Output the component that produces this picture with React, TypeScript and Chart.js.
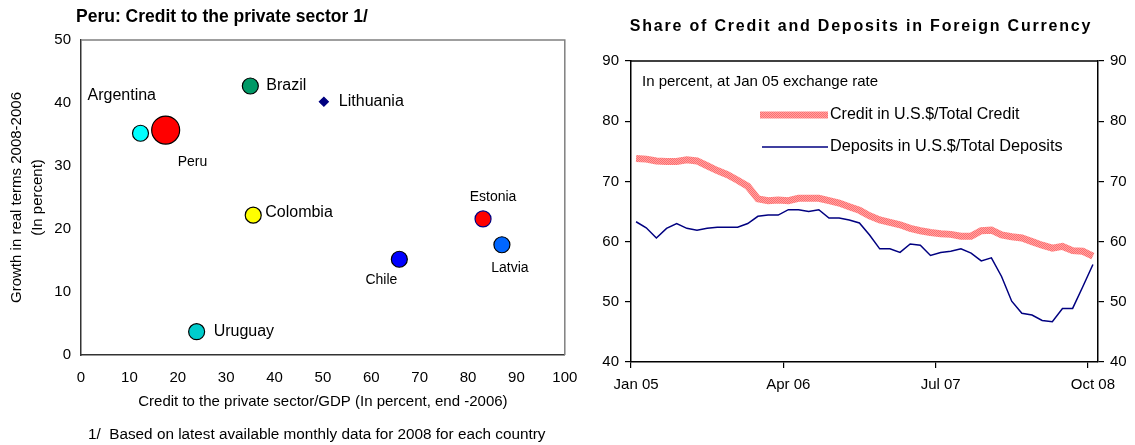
import React, { useEffect, useRef } from "react";
import { Chart, registerables } from "chart.js";

Chart.register(...registerables);

// ---------- Left chart data ----------
const countries = ["Argentina", "Peru", "Brazil", "Lithuania", "Colombia", "Estonia", "Latvia", "Chile", "Uruguay"];
const creditToGdp = [12.3, 17.5, 35.0, 50.2, 35.6, 83.1, 87.0, 65.8, 23.9];
const creditGrowth = [35.2, 35.7, 42.7, 40.2, 22.2, 21.6, 17.5, 15.2, 3.7];
const xTickValues = [0, 10, 20, 30, 40, 50, 60, 70, 80, 90, 100];
const yTickValues = [0, 10, 20, 30, 40, 50];

// ---------- Right chart data ----------
const months = [
  "Jan 05", "Feb 05", "Mar 05", "Apr 05", "May 05", "Jun 05", "Jul 05", "Aug 05", "Sep 05", "Oct 05", "Nov 05", "Dec 05",
  "Jan 06", "Feb 06", "Mar 06", "Apr 06", "May 06", "Jun 06", "Jul 06", "Aug 06", "Sep 06", "Oct 06", "Nov 06", "Dec 06",
  "Jan 07", "Feb 07", "Mar 07", "Apr 07", "May 07", "Jun 07", "Jul 07", "Aug 07", "Sep 07", "Oct 07", "Nov 07", "Dec 07",
  "Jan 08", "Feb 08", "Mar 08", "Apr 08", "May 08", "Jun 08", "Jul 08", "Aug 08", "Sep 08", "Oct 08",
];
const shownMonthLabels = ["Jan 05", "Apr 06", "Jul 07", "Oct 08"];
const creditUsdShare = [
  73.8, 73.7, 73.4, 73.3, 73.3, 73.6, 73.4, 72.6, 71.8, 71.1,
  70.2, 69.2, 67.1, 66.8, 66.9, 66.8, 67.2, 67.2, 67.2, 66.8,
  66.4, 65.8, 65.2, 64.3, 63.6, 63.2, 62.8, 62.2, 61.8, 61.5,
  61.3, 61.2, 60.9, 60.9, 61.8, 61.9, 61.1, 60.8, 60.6, 60.0,
  59.4, 58.9, 59.2, 58.5, 58.4, 57.6,
];
const depositsUsdShare = [
  63.3, 62.3, 60.6, 62.2, 63.0, 62.2, 61.9, 62.2, 62.4, 62.4,
  62.4, 63.0, 64.2, 64.4, 64.4, 65.3, 65.3, 65.0, 65.3, 63.9,
  63.9, 63.6, 63.1, 61.1, 58.8, 58.8, 58.2, 59.6, 59.4, 57.7,
  58.2, 58.4, 58.8, 58.1, 56.8, 57.3, 54.2, 50.1, 48.1, 47.8,
  46.9, 46.7, 48.9, 48.9, 52.5, 56.2,
];
const rightTicks = [40, 50, 60, 70, 80, 90];

// ---------- Styles ----------
const FONT = '"Liberation Sans", Arial, Helvetica, sans-serif';

const countryStyle: Record<string, any> = {
  Argentina: { fill: "#00FFFF", stroke: "#000000", r: 8, shape: "circle", size: 16, dx: -53, dy: -38, align: "left" },
  Peru: { fill: "#FF0000", stroke: "#000000", r: 14, shape: "circle", size: 14, dx: 12, dy: 32, align: "left" },
  Brazil: { fill: "#009966", stroke: "#000000", r: 8, shape: "circle", size: 16, dx: 16, dy: 0, align: "left" },
  Lithuania: { fill: "#000080", stroke: "#000080", r: 4.5, shape: "rectRot", size: 16, dx: 15, dy: 0, align: "left" },
  Colombia: { fill: "#FFFF00", stroke: "#000000", r: 8, shape: "circle", size: 16, dx: 12, dy: -3, align: "left" },
  Estonia: { fill: "#FF0000", stroke: "#000080", r: 8, shape: "circle", size: 14, dx: 10, dy: -22, align: "center" },
  Latvia: { fill: "#0066FF", stroke: "#000000", r: 8, shape: "circle", size: 14, dx: 8, dy: 23, align: "center" },
  Chile: { fill: "#0000FF", stroke: "#000000", r: 8, shape: "circle", size: 14, dx: -18, dy: 21, align: "center" },
  Uruguay: { fill: "#00CCCC", stroke: "#000000", r: 8, shape: "circle", size: 16, dx: 17, dy: 0, align: "left" },
};

// plugin drawing free texts (titles, notes) at fixed canvas positions
const textsPlugin = {
  id: "texts",
  afterDraw(chart: any, _args: any, opts: any) {
    const ctx = chart.ctx;
    (opts.items || []).forEach((it: any) => {
      ctx.save();
      ctx.font = it.font;
      ctx.fillStyle = it.color || "#000";
      ctx.textAlign = it.align || "left";
      ctx.textBaseline = "middle";
      if (it.letterSpacing) (ctx as any).letterSpacing = it.letterSpacing;
      ctx.fillText(it.text, it.x, it.y);
      ctx.restore();
    });
  },
};

// point labels for the scatter chart
const pointLabelsPlugin = {
  id: "pointLabels",
  afterDatasetsDraw(chart: any) {
    const ctx = chart.ctx;
    const meta = chart.getDatasetMeta(0);
    meta.data.forEach((pt: any, i: number) => {
      const name = countries[i];
      const st = countryStyle[name];
      ctx.save();
      ctx.font = `${st.size}px ${FONT}`;
      ctx.fillStyle = "#000";
      ctx.textAlign = st.align;
      ctx.textBaseline = "middle";
      ctx.fillText(name, pt.x + st.dx, pt.y + st.dy);
      ctx.restore();
    });
  },
};

// frame around plot area
const frameLeftPlugin = {
  id: "frameLeft",
  beforeDatasetsDraw(chart: any) {
    const { ctx, chartArea: a } = chart;
    ctx.save();
    ctx.strokeStyle = "#808080";
    ctx.lineWidth = 1.5;
    ctx.beginPath();
    ctx.moveTo(a.left, a.top);
    ctx.lineTo(a.right, a.top);
    ctx.lineTo(a.right, a.bottom);
    ctx.stroke();
    ctx.restore();
  },
};

const frameRightPlugin = {
  id: "frameRight",
  afterDraw(chart: any) {
    const { ctx, chartArea: a } = chart;
    ctx.save();
    ctx.strokeStyle = "#000";
    ctx.lineWidth = 1.5;
    ctx.beginPath();
    ctx.moveTo(a.left, a.top);
    ctx.lineTo(a.right, a.top);
    ctx.stroke();
    ctx.restore();
  },
};

// legend drawn as line samples + text
const lineLegendPlugin = {
  id: "lineLegend",
  afterDraw(chart: any, _args: any, opts: any) {
    const ctx = chart.ctx;
    (opts.items || []).forEach((it: any) => {
      const ds = chart.data.datasets[it.datasetIndex];
      ctx.save();
      ctx.strokeStyle = ds.borderColor;
      ctx.lineWidth = ds.borderWidth;
      ctx.beginPath();
      ctx.moveTo(it.x1, it.y);
      ctx.lineTo(it.x2, it.y);
      ctx.stroke();
      ctx.font = it.font;
      ctx.fillStyle = "#000";
      ctx.textAlign = "left";
      ctx.textBaseline = "middle";
      ctx.fillText(ds.label, it.x2 + 2, it.y);
      ctx.restore();
    });
  },
};

function makePattern(): CanvasPattern | string {
  const c = document.createElement("canvas");
  c.width = 2;
  c.height = 2;
  const g = c.getContext("2d");
  if (!g) return "#FF8080";
  g.fillStyle = "#FFA3A3";
  g.fillRect(0, 0, 2, 2);
  g.fillStyle = "#FF6E6E";
  g.fillRect(0, 0, 1, 1);
  g.fillRect(1, 1, 1, 1);
  const p = g.createPattern(c, "repeat");
  return p || "#FF8080";
}

function ScatterChart() {
  const ref = useRef<HTMLCanvasElement>(null);
  useEffect(() => {
    if (!ref.current) return;
    const chart = new Chart(ref.current, {
      type: "scatter",
      data: {
        datasets: [
          {
            label: "Countries",
            data: countries.map((_, i) => ({ x: creditToGdp[i], y: creditGrowth[i] })),
            backgroundColor: countries.map((c) => countryStyle[c].fill),
            borderColor: countries.map((c) => countryStyle[c].stroke),
            borderWidth: 1.2,
            pointRadius: countries.map((c) => countryStyle[c].r),
            pointStyle: countries.map((c) => countryStyle[c].shape) as any,
            pointHoverRadius: countries.map((c) => countryStyle[c].r),
          },
        ],
      },
      options: {
        responsive: false,
        animation: false,
        layout: { padding: { top: 40, right: 0, left: 0, bottom: 0 } },
        plugins: {
          legend: { display: false },
          tooltip: { enabled: false },
          texts: {
            items: [
              { text: "Peru: Credit to the private sector 1/", x: 76, y: 17, font: `bold 17.5px ${FONT}` },
              { text: "1/  Based on latest available monthly data for 2008 for each country", x: 88, y: 435, font: `15.3px ${FONT}` },
            ],
          },
        } as any,
        scales: {
          x: {
            type: "linear",
            min: 0,
            max: 100,
            afterBuildTicks: (s: any) => { s.ticks = xTickValues.map((v) => ({ value: v })); },
            afterFit: (s: any) => { s.height = 90; s.paddingRight = 13; s.paddingLeft = 0; },
            ticks: { font: { family: FONT, size: 15 }, color: "#000", padding: 14 },
            grid: { display: false, drawTicks: false },
            border: { display: true, color: "#333", width: 1.5 },
            title: {
              display: true,
              text: "Credit to the private sector/GDP (In percent, end -2006)",
              font: { family: FONT, size: 15 },
              color: "#000",
              padding: { top: 0, bottom: 34 },
            },
          },
          y: {
            type: "linear",
            min: 0,
            max: 50,
            afterBuildTicks: (s: any) => { s.ticks = yTickValues.map((v) => ({ value: v })); },
            afterFit: (s: any) => { s.width = 81; },
            ticks: { font: { family: FONT, size: 15 }, color: "#000", padding: 10 },
            grid: { display: false, drawTicks: false },
            border: { display: true, color: "#333", width: 1.5 },
            title: {
              display: true,
              text: ["Growth in real terms 2008-2006", "(In percent)"],
              font: { family: FONT, size: 15, lineHeight: 1.4 },
              color: "#000",
              padding: { top: 6.5, bottom: 0 },
            },
          },
        },
      },
      plugins: [textsPlugin, pointLabelsPlugin, frameLeftPlugin],
    });
    return () => chart.destroy();
  }, []);
  return <canvas ref={ref} width={580} height={445} style={{ position: "absolute", left: 0, top: 0 }} />;
}

function LineChart() {
  const ref = useRef<HTMLCanvasElement>(null);
  useEffect(() => {
    if (!ref.current) return;
    const pattern = makePattern();
    const tickIdx = shownMonthLabels.map((m) => months.indexOf(m));
    const yAxisCommon = {
      type: "linear" as const,
      min: 40,
      max: 90,
      afterBuildTicks: (s: any) => { s.ticks = rightTicks.map((v) => ({ value: v })); },
      grid: { display: true, drawOnChartArea: false, tickLength: 6, color: "#000", lineWidth: 1.2 },
      border: { display: true, color: "#000", width: 1.5 },
    };
    const chart = new Chart(ref.current, {
      type: "line",
      data: {
        labels: months,
        datasets: [
          {
            label: "Credit in U.S.$/Total Credit",
            data: creditUsdShare,
            borderColor: pattern as any,
            backgroundColor: pattern as any,
            borderWidth: 7,
            pointRadius: 0,
            tension: 0,
            yAxisID: "y",
          },
          {
            label: "Deposits in U.S.$/Total Deposits",
            data: depositsUsdShare,
            borderColor: "#000080",
            backgroundColor: "#000080",
            borderWidth: 1.5,
            pointRadius: 0,
            tension: 0,
            yAxisID: "y",
          },
        ],
      },
      options: {
        responsive: false,
        animation: false,
        layout: { padding: { top: 61, right: 0, left: 0, bottom: 0 } },
        plugins: {
          legend: { display: false },
          tooltip: { enabled: false },
          texts: {
            items: [
              {
                text: "Share of Credit and Deposits in Foreign Currency",
                x: 281,
                y: 27,
                align: "center",
                font: `bold 16px ${FONT}`,
                letterSpacing: "1.8px",
              },
              { text: "In percent, at Jan 05 exchange rate", x: 62, y: 82, font: `15px ${FONT}` },
            ],
          },
          lineLegend: {
            items: [
              { datasetIndex: 0, x1: 180, x2: 248, y: 115, font: `16px ${FONT}` },
              { datasetIndex: 1, x1: 182, x2: 248, y: 147, font: `16.3px ${FONT}` },
            ],
          },
        } as any,
        scales: {
          x: {
            type: "category",
            offset: true,
            afterFit: (s: any) => { s.height = 83; },
            grid: {
              display: true,
              drawOnChartArea: false,
              offset: true,
              tickLength: 6,
              lineWidth: 1.2,
              color: (ctx: any) => (tickIdx.includes(ctx.index) ? "#000" : "rgba(0,0,0,0)"),
            },
            border: { display: true, color: "#000", width: 1.5 },
            ticks: {
              autoSkip: false,
              maxRotation: 0,
              minRotation: 0,
              font: { family: FONT, size: 15 },
              color: "#000",
              padding: 8,
              callback: (_v: any, i: number) => (tickIdx.includes(i) ? months[i] : ""),
            },
          },
          y: {
            ...yAxisCommon,
            position: "left",
            afterFit: (s: any) => { s.width = 51; },
            ticks: { font: { family: FONT, size: 15 }, color: "#000", padding: 6 },
          },
          y2: {
            ...yAxisCommon,
            position: "right",
            afterFit: (s: any) => { s.width = 37; },
            ticks: { font: { family: FONT, size: 15 }, color: "#000", padding: 6 },
          },
        } as any,
      },
      plugins: [textsPlugin, frameRightPlugin, lineLegendPlugin],
    });
    return () => chart.destroy();
  }, []);
  return <canvas ref={ref} width={555} height={445} style={{ position: "absolute", left: 580, top: 0 }} />;
}

export default function App() {
  return (
    <div style={{ position: "absolute", left: 0, top: 0, width: 1135, height: 445, background: "#fff", overflow: "hidden" }}>
      <ScatterChart />
      <LineChart />
    </div>
  );
}
